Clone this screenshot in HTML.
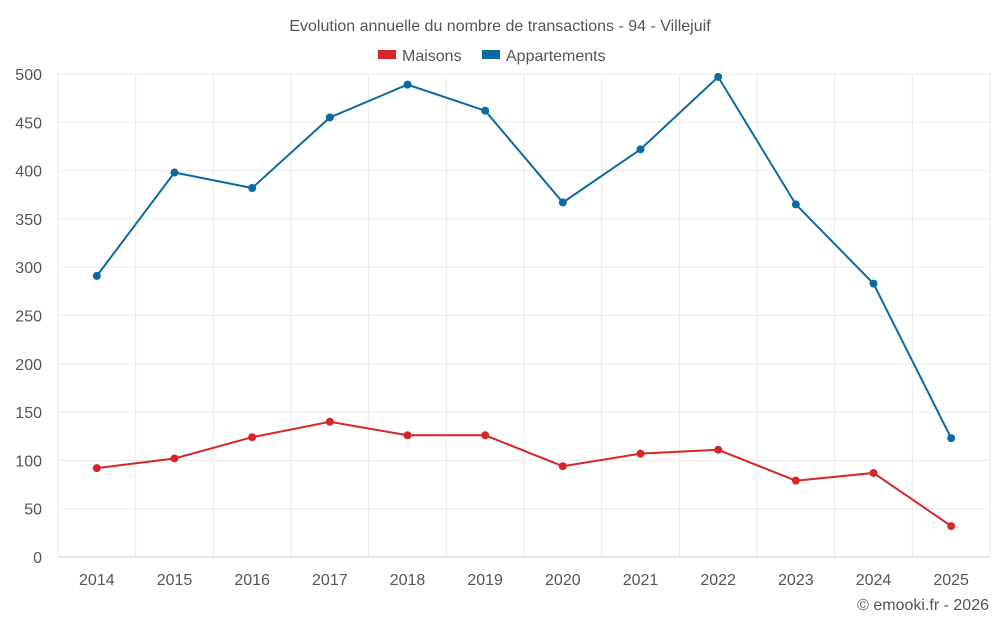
<!DOCTYPE html>
<html><head><meta charset="utf-8">
<style>
html,body{margin:0;padding:0;background:#fff;}
svg{display:block;font-family:"Liberation Sans",sans-serif;}
</style></head>
<body>
<svg id="chart" width="1000" height="625" viewBox="0 0 1000 625">
<text x="500" y="31" text-anchor="middle" font-size="16" fill="#555">Evolution annuelle du nombre de transactions - 94 - Villejuif</text>
<g>
<g><rect x="378" y="50" width="18" height="9" fill="#d62728"/><text x="402" y="61" font-size="16" fill="#555">Maisons</text></g>
<g><rect x="482" y="50" width="18" height="9" fill="#0b6aa2"/><text x="506" y="61" font-size="16" fill="#555">Appartements</text></g>
</g>
<g id="grid"></g>
<g id="yticks"></g>
<g id="xticks"></g>
<g id="series"></g>
<text x="989" y="610" text-anchor="end" font-size="16" fill="#555">© emooki.fr - 2026</text>
</svg>
<script>
const years = [2014,2015,2016,2017,2018,2019,2020,2021,2022,2023,2024,2025];
const maisons = [92,102,124,140,126,126,94,107,111,79,87,32];
const appartements = [291,398,382,455,489,462,367,422,497,365,283,123];
const yTicks = [0,50,100,150,200,250,300,350,400,450,500];

const NS="http://www.w3.org/2000/svg";
const L=58,R=990,T=74,B=557;
const yS=v=>B-(v/500)*(B-T);
const step=(R-L)/years.length;
const xS=i=>L+step*(i+0.5);
function mk(tag,attrs,parent){const e=document.createElementNS(NS,tag);for(const k in attrs)e.setAttribute(k,attrs[k]);parent.appendChild(e);return e;}
const grid=document.getElementById('grid'),yt=document.getElementById('yticks'),xt=document.getElementById('xticks'),ser=document.getElementById('series');
yTicks.forEach(v=>{
  const ln=mk('line',{x1:L,x2:R,y1:yS(v),y2:yS(v),stroke:v===0?'#ccc':'#ebebeb','stroke-width':1},grid);
  
  
  const t=mk('text',{x:42,y:yS(v)+6,'text-anchor':'end','font-size':16,fill:'#555'},yt);
  t.textContent=v;
  
  
});
for(let i=0;i<=years.length;i++){
  const ln=mk('line',{x1:L+step*i,x2:L+step*i,y1:T,y2:B,stroke:'#ebebeb','stroke-width':1},grid);
  
  
}
years.forEach((y,i)=>{
  const t=mk('text',{x:xS(i),y:585,'text-anchor':'middle','font-size':16,fill:'#555'},xt);
  t.textContent=y;
  
  
});
function draw(vals,color,name){
  const p=mk('polyline',{points:vals.map((v,i)=>xS(i)+','+yS(v)).join(' '),fill:'none',stroke:color,'stroke-width':2},ser);
  
  
  vals.forEach((v,i)=>{
    const c=mk('circle',{cx:xS(i),cy:yS(v),r:4,fill:color},ser);
    
    
  });
}
draw(appartements,'#0b6aa2','appartements');
draw(maisons,'#d62728','maisons');
</script>
</body></html>
